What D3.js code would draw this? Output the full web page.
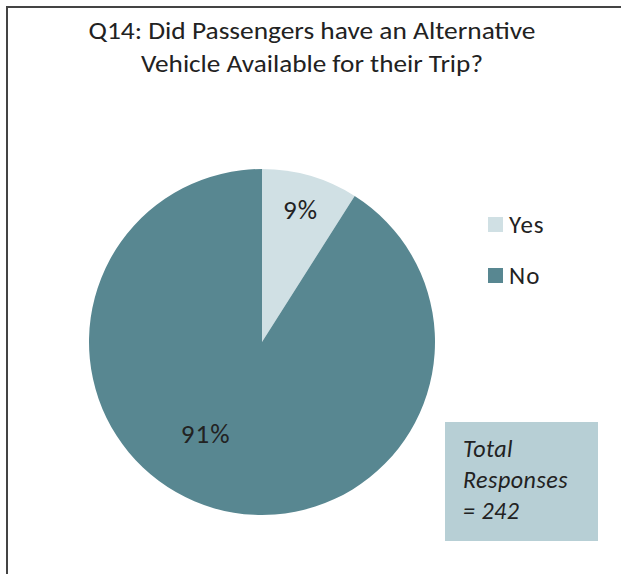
<!DOCTYPE html>
<html>
<head>
<meta charset="utf-8">
<script src="https://cdn.jsdelivr.net/npm/d3@7"></script>
<style>
  html, body { margin: 0; padding: 0; background: #fff; }
  svg { display: block; }
  text { font-family: Carlito, Lato, "Open Sans", sans-serif; fill: #222; }
</style>
</head>
<body>
<svg id="chart" width="621" height="574"></svg>
<script>
// Survey answers (percent of responses)
const categories = ["Yes", "No"];
const values = [9, 91];
const sliceLabels = ["9%", "91%"];
const titleLines = ["Q14: Did Passengers have an Alternative", "Vehicle Available for their Trip?"];
const noteLines = ["Total", "Responses", "= 242"];

const W = 621, H = 574;
const svg = d3.select("#chart");

// outer frame (top and left edges)
svg.append("path")
  .attr("d", `M7,${H} L7,7 L${W},7`)
  .attr("fill", "none")
  .attr("stroke", "#444")
  .attr("stroke-width", 2);

// title
const titleWidths = [447, 342];
svg.append("g").selectAll("text")
  .data(titleLines)
  .join("text")
  .attr("x", 312)
  .attr("y", (d, i) => 39 + i * 33)
  .attr("text-anchor", "middle")
  .attr("font-size", 24)
  .attr("textLength", (d, i) => titleWidths[i])
  .attr("lengthAdjust", "spacingAndGlyphs")
  .attr("fill", "#111")
  .text(d => d);

const color = d3.scaleOrdinal().domain(categories).range(["#d0e0e4", "#588791"]);

const cx = 262, cy = 342, r = 173;
const pie = d3.pie().sort(null).value(d => d.value);
const arcs = pie(categories.map((c, i) => ({ cat: c, value: values[i], label: sliceLabels[i] })));
const arc = d3.arc().innerRadius(0).outerRadius(r);

const g = svg.append("g").attr("transform", `translate(${cx},${cy})`);
g.selectAll("path")
  .data(arcs)
  .join("path")
  .attr("d", arc)
  .attr("fill", d => color(d.data.cat));

// slice value labels: placed along each slice's mid-angle (with a small turn for the big slice)
const labelRadius = [0.80, 0.62];
const labelTurn = [0, 0.27];
g.selectAll("text")
  .data(arcs)
  .join("text")
  .attr("transform", (d, i) => {
    const a = (d.startAngle + d.endAngle) / 2 + labelTurn[i];
    const rr = r * labelRadius[i];
    return `translate(${rr * Math.sin(a)},${-rr * Math.cos(a)})`;
  })
  .attr("text-anchor", "middle")
  .attr("dy", "0.36em")
  .attr("font-size", 27)
  .attr("letter-spacing", 1)
  .attr("fill", "#2e2e2e")
  .text(d => d.data.label);

// legend
const legend = svg.append("g").attr("transform", "translate(488,217)");
const items = legend.selectAll("g")
  .data(categories)
  .join("g")
  .attr("transform", (d, i) => `translate(0,${i * 51})`);
items.append("rect")
  .attr("width", 15).attr("height", 15)
  .attr("fill", d => color(d));
items.append("text")
  .attr("x", 21).attr("y", 16)
  .attr("font-size", 25)
  .attr("letter-spacing", 1)
  .attr("fill", "#333")
  .text(d => d);

// total responses note
svg.append("rect")
  .attr("x", 445).attr("y", 422)
  .attr("width", 153).attr("height", 119)
  .attr("fill", "#b7cfd5");
svg.append("g").selectAll("text")
  .data(noteLines)
  .join("text")
  .attr("x", 463)
  .attr("y", (d, i) => 457 + i * 31)
  .attr("font-size", 24)
  .attr("font-style", "italic")
  .attr("letter-spacing", 0.5)
  .attr("fill", "#1a1a1a")
  .text(d => d);
</script>
</body>
</html>
